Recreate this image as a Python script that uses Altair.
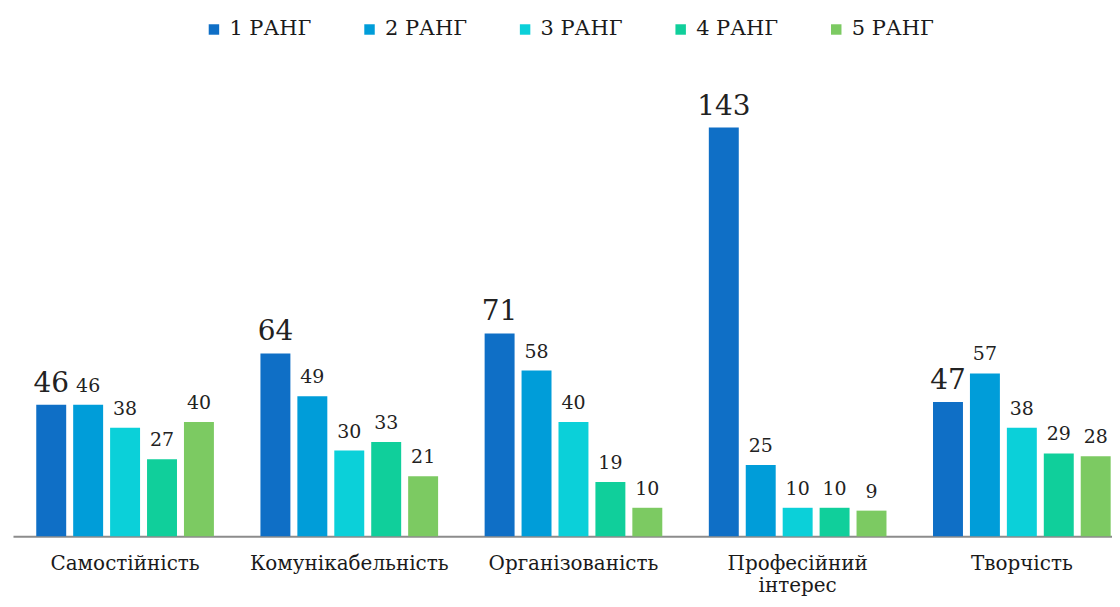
import altair as alt
import pandas as pd

categories = ["Самостійність", "Комунікабельність", "Організованість", "Професійний|інтерес", "Творчість"]
ranks = ["1 РАНГ", "2 РАНГ", "3 РАНГ", "4 РАНГ", "5 РАНГ"]
rank1 = [46, 64, 71, 143, 47]
rank2 = [46, 49, 58, 25, 57]
rank3 = [38, 30, 40, 10, 38]
rank4 = [27, 33, 19, 10, 29]
rank5 = [40, 21, 10, 9, 28]
colors = ["#0F6FC6", "#009DD9", "#0BD0D9", "#10CF9B", "#7CCA62"]

series = [rank1, rank2, rank3, rank4, rank5]
rows = []
for r, vals in zip(ranks, series):
    for c, v in zip(categories, vals):
        rows.append({"cat": c, "rank": r, "value": v})
df = pd.DataFrame(rows)

FONT = "DejaVu Serif"

x = alt.X("cat:N", sort=categories, title=None,
          scale=alt.Scale(range=[0, 1124], paddingInner=0, paddingOuter=0),
          axis=alt.Axis(labelAngle=0, ticks=False, domainColor="#8c8c8c", domainWidth=2,
                        labelFontSize=20, labelColor="#1a1a1a", labelFont=FONT,
                        labelPadding=17, labelLineHeight=22, labelLimit=0,
                        grid=False,
                        labelExpr="split(datum.label, '|')"))
xo = alt.XOffset("rank:N", sort=ranks, scale=alt.Scale(paddingInner=0.189, paddingOuter=0.63))
y = alt.Y("value:Q", scale=alt.Scale(domain=[0, 150]), axis=None)

base = alt.Chart(df).encode(x=x, xOffset=xo, y=y)

bars = base.mark_bar().encode(
    color=alt.Color("rank:N", sort=ranks,
                    scale=alt.Scale(domain=ranks, range=colors),
                    legend=alt.Legend(title=None, orient="none", direction="horizontal",
                                      legendX=191, legendY=-89, symbolType="square",
                                      symbolSize=110, symbolStrokeWidth=0,
                                      labelFontSize=21, labelFont=FONT, labelColor="#1a1a1a",
                                      labelOffset=5, columnPadding=47))
)

labels = base.mark_text(baseline="alphabetic", dy=-13, font=FONT, color="#222222").encode(
    text="value:Q",
    size=alt.condition("datum.rank == '1 РАНГ'", alt.value(28), alt.value(19)),
)

chart = (bars + labels).properties(
    width=1102, height=430,
    autosize=alt.AutoSizeParams(type="none"),
    padding={"left": 5, "top": 99, "right": 0, "bottom": 62},
).configure(font=FONT).configure_view(stroke=None, strokeWidth=0)

chart.save("out.html", embed_options={"renderer": "svg", "actions": False})
